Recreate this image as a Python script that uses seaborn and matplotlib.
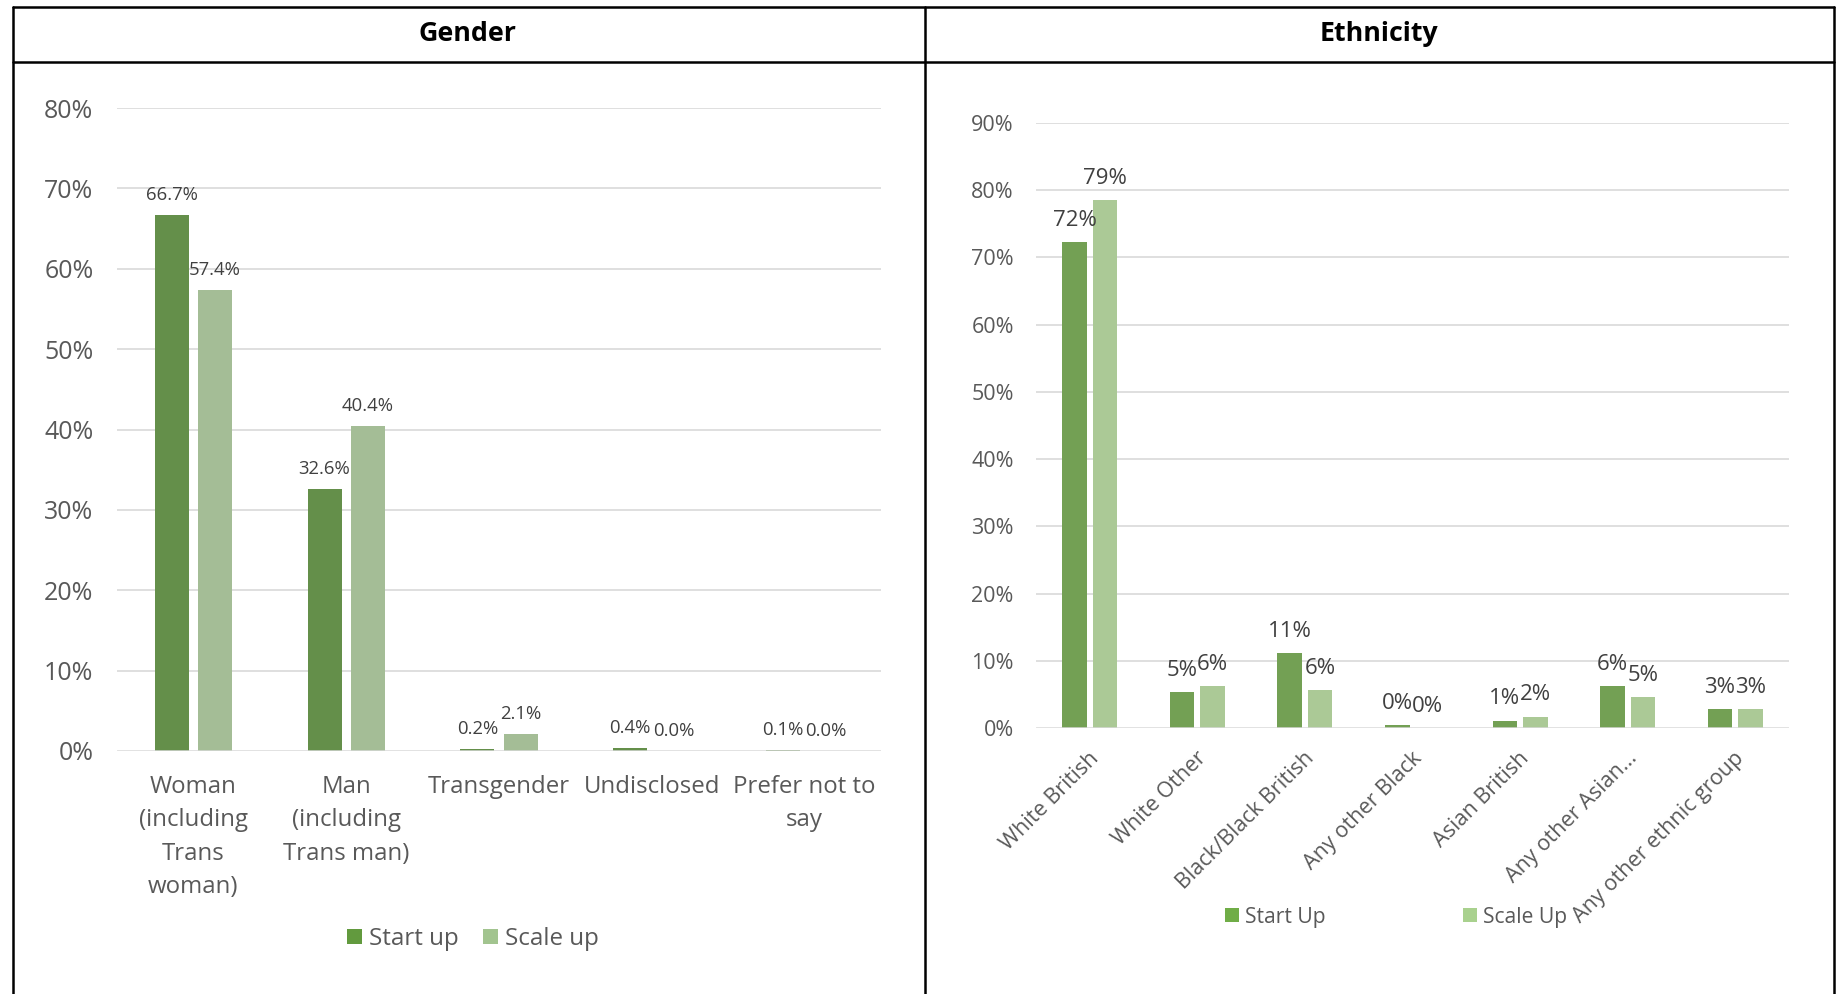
import matplotlib
matplotlib.use("Agg")
import matplotlib.pyplot as plt
import seaborn as sns
import pandas as pd
from matplotlib.lines import Line2D
from matplotlib.patches import Patch
from matplotlib.transforms import ScaledTranslation

# ---- Gender panel data (percent) ----
gender_categories = ["Woman\n(including\nTrans\nwoman)", "Man\n(including\nTrans man)",
                     "Transgender", "Undisclosed", "Prefer not to\nsay"]
gender_series = ["Start up", "Scale up"]
gender_start_up = [66.7, 32.6, 0.2, 0.4, 0.1]
gender_scale_up = [57.4, 40.4, 2.1, 0.0, 0.0]
gender_yticks = [0, 10, 20, 30, 40, 50, 60, 70, 80]

# ---- Ethnicity panel data (percent) ----
ethnicity_categories = ["White British", "White Other", "Black/Black British", "Any other Black",
                        "Asian British", "Any other Asian...", "Any other ethnic group"]
ethnicity_series = ["Start Up", "Scale Up"]
ethnicity_start_up = [72.3, 5.3, 11.2, 0.4, 1.1, 6.2, 2.8]
ethnicity_scale_up = [78.6, 6.2, 5.6, 0.0, 1.7, 4.6, 2.8]
ethnicity_yticks = [0, 10, 20, 30, 40, 50, 60, 70, 80, 90]

sns.set_theme(style="white")
plt.rcParams["font.family"] = ["Open Sans", "DejaVu Sans"]

TICK_GREY = "#595959"
LABEL_GREY = "#404040"
GRID_GREY = "#D9D9D9"

fig = plt.figure(figsize=(18.36, 9.94), dpi=100)
fig.patch.set_facecolor("white")

W, H = 1836, 994


def fx(px):
    return px / W


def fy(py):
    return 1 - py / H


def long_frame(cats, series, a, b):
    rows = []
    for c, v in zip(cats, a):
        rows.append({"category": c, "series": series[0], "value": v})
    for c, v in zip(cats, b):
        rows.append({"category": c, "series": series[1], "value": v})
    return pd.DataFrame(rows)


def style_axes(ax, yticks, tick_size, ypad):
    ax.set_ylim(0, yticks[-1])
    ax.set_yticks(yticks)
    ax.set_yticklabels([f"{t}%" for t in yticks], fontsize=tick_size, color=TICK_GREY)
    ax.tick_params(axis="y", length=0, pad=ypad)
    ax.tick_params(axis="x", length=0)
    for t in yticks[1:]:
        ax.axhline(t, color=GRID_GREY, lw=1.2, zorder=0)
    ax.axhline(0, color=GRID_GREY, lw=1.8, zorder=3)
    for s in ax.spines.values():
        s.set_visible(False)
    ax.set_xlabel("")
    ax.set_ylabel("")
    ax.set_facecolor("white")


# ---- Gender ----
ax1 = fig.add_axes([fx(117), fy(751), fx(881) - fx(117), fy(108) - fy(751)])
gdf = long_frame(gender_categories, gender_series, gender_start_up, gender_scale_up)
gender_palette = {"Start up": "#629A3E", "Scale up": "#A2C48F"}
sns.barplot(data=gdf, x="category", y="value", hue="series", palette=gender_palette,
            width=0.567, gap=0.216, linewidth=0, legend=False, ax=ax1, zorder=2)
style_axes(ax1, gender_yticks, 18, 17)
ax1.set_xlim(-0.5, len(gender_categories) - 0.5)
ax1.set_xticks(range(len(gender_categories)))
ax1.set_xticklabels(gender_categories, fontsize=17.3, color=TICK_GREY, linespacing=1.53,
                    va="top", ha="center")
ax1.tick_params(axis="x", pad=17)
for cont in ax1.containers:
    ax1.bar_label(cont, labels=[f"{v:.1f}%" for v in cont.datavalues], padding=8,
                  fontsize=13.3, color=LABEL_GREY)

# ---- Ethnicity ----
ax2 = fig.add_axes([fx(1036), fy(728), fx(1789) - fx(1036), fy(123) - fy(728)])
edf = long_frame(ethnicity_categories, ethnicity_series, ethnicity_start_up, ethnicity_scale_up)
eth_palette = {"Start Up": "#70AD47", "Scale Up": "#A9D18E"}
sns.barplot(data=edf, x="category", y="value", hue="series", palette=eth_palette,
            width=0.566, gap=0.19, linewidth=0, legend=False, ax=ax2, zorder=2)
style_axes(ax2, ethnicity_yticks, 15.5, 16)
ax2.set_xlim(-0.5, len(ethnicity_categories) - 0.5)
ax2.set_xticks(range(len(ethnicity_categories)))
ax2.set_xticklabels(ethnicity_categories, fontsize=15.6, color=TICK_GREY, rotation=45,
                    ha="right", va="center", rotation_mode="anchor")
ax2.tick_params(axis="x", pad=17)
nudge = ScaledTranslation(0.06, -0.035, fig.dpi_scale_trans)
for lbl in ax2.get_xticklabels():
    lbl.set_transform(lbl.get_transform() + nudge)
for cont in ax2.containers:
    ax2.bar_label(cont, labels=[f"{v:.0f}%" for v in cont.datavalues], padding=8,
                  fontsize=16, color=LABEL_GREY)

# ---- Legends ----
g_handles = [Patch(facecolor=gender_palette[s], edgecolor="none") for s in gender_series]
fig.legend(g_handles, gender_series, loc="center", bbox_to_anchor=(fx(473), fy(939)),
           ncol=2, frameon=False, fontsize=17.4, handlelength=0.6, handleheight=0.6,
           handletextpad=0.3, columnspacing=1.0, labelcolor=TICK_GREY)
e_handles = [Patch(facecolor=eth_palette[s], edgecolor="none") for s in ethnicity_series]
fig.legend(e_handles, ethnicity_series, loc="center", bbox_to_anchor=(fx(1396), fy(917)),
           ncol=2, frameon=False, fontsize=15.2, handlelength=0.65, handleheight=0.65,
           handletextpad=0.3, columnspacing=6.5, labelcolor=TICK_GREY)

# ---- Table-like frame and headers ----
frame_kw = dict(color="black", lw=1.8, transform=fig.transFigure)
fig.add_artist(Line2D([fx(13), fx(1834)], [fy(7), fy(7)], **frame_kw))
fig.add_artist(Line2D([fx(13), fx(1834)], [fy(62), fy(62)], **frame_kw))
fig.add_artist(Line2D([fx(13), fx(13)], [fy(7), 0], **frame_kw))
fig.add_artist(Line2D([fx(925), fx(925)], [fy(7), 0], **frame_kw))
fig.add_artist(Line2D([fx(1834), fx(1834)], [fy(7), 0], **frame_kw))
fig.text(fx(468), fy(34), "Gender", ha="center", va="center", fontsize=19.3,
         fontweight="bold", color="black")
fig.text(fx(1379), fy(34), "Ethnicity", ha="center", va="center", fontsize=19.3,
         fontweight="bold", color="black")

fig.savefig("out.png", dpi=100, facecolor="white")
